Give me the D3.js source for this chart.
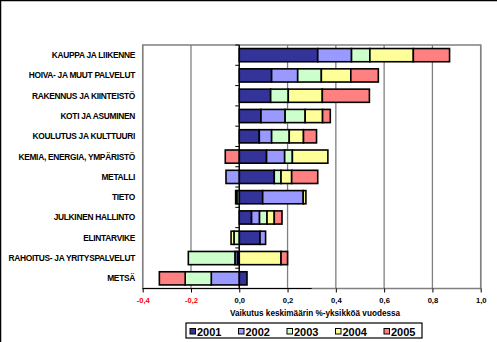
<!DOCTYPE html>
<html><head><meta charset="utf-8">
<script src="https://cdn.jsdelivr.net/npm/d3@7/dist/d3.min.js"></script>
<style>body{margin:0;background:#fff}svg{display:block}text{font-family:"Liberation Sans",Arial,sans-serif}</style>
</head><body><div id="chart"></div>
<script>
const categories = ["KAUPPA JA LIIKENNE","HOIVA- JA MUUT PALVELUT","RAKENNUS JA KIINTEISTÖ","KOTI JA ASUMINEN","KOULUTUS JA KULTTUURI","KEMIA, ENERGIA, YMPÄRISTÖ","METALLI","TIETO","JULKINEN HALLINTO","ELINTARVIKE","RAHOITUS- JA YRITYSPALVELUT","METSÄ"];
const seriesNames = ["2001","2002","2003","2004","2005"];
const v2001 = [0.325, 0.134, 0.130, 0.090, 0.083, 0.113, 0.145, 0.097, 0.051, 0.086, -0.008, 0.032];
const v2002 = [0.140, 0.108, 0.000, 0.100, 0.051, 0.075, -0.055, 0.168, 0.033, 0.023, -0.010, -0.116];
const v2003 = [0.076, 0.098, 0.073, 0.083, 0.073, 0.032, 0.028, -0.010, 0.031, -0.022, -0.193, -0.108];
const v2004 = [0.180, 0.122, 0.141, 0.072, 0.059, 0.147, 0.044, 0.011, 0.030, -0.012, 0.173, 0.000];
const v2005 = [0.150, 0.114, 0.195, 0.032, 0.054, -0.058, 0.108, -0.005, 0.032, 0.000, 0.027, -0.107];
const xTicks = [-0.4,-0.2,0,0.2,0.4,0.6,0.8,1.0];
const colors = ["#333399","#9999FF","#CCFFCC","#FFFF99","#FF8080"];
const axisTitle = "Vaikutus keskimäärin %-yksikköä vuodessa";

const W=497,H=342;
const svg=d3.select("#chart").append("svg").attr("width",W).attr("height",H);
svg.append("rect").attr("x",0.5).attr("y",0.5).attr("width",W+5).attr("height",H+5).attr("fill","#fff").attr("stroke","#000").attr("stroke-width",1.5);

const L=142.7,R=480.7,T=45,B=288.5;
const x=d3.scaleLinear().domain([-0.4,1.0]).range([L,R]);
const y=d3.scaleBand().domain(categories).range([T,B]).paddingInner(0.35).paddingOuter(0.175);

// gridlines
svg.append("g").selectAll("line").data(xTicks).join("line")
  .attr("x1",d=>x(d)).attr("x2",d=>x(d)).attr("y1",T).attr("y2",B)
  .attr("stroke","#808080").attr("stroke-width",1.3);
svg.append("rect").attr("x",L).attr("y",T).attr("width",R-L).attr("height",B-T)
  .attr("fill","none").attr("stroke","#808080").attr("stroke-width",1.5);

// stacked bars
const rows=categories.map((c,i)=>({cat:c,"2001":v2001[i],"2002":v2002[i],"2003":v2003[i],"2004":v2004[i],"2005":v2005[i]}));
const stacked=d3.stack().keys(seriesNames).offset(d3.stackOffsetDiverging)(rows);
const gBars=svg.append("g");
stacked.forEach((s,si)=>{
  gBars.append("g").selectAll("rect").data(s.filter(d=>d[1]!==d[0])).join("rect")
    .attr("x",d=>x(Math.min(d[0],d[1])))
    .attr("width",d=>Math.abs(x(d[1])-x(d[0])))
    .attr("y",d=>y(d.data.cat)).attr("height",y.bandwidth())
    .attr("fill",colors[si]).attr("stroke","#000").attr("stroke-width",1.6);
});

// x axis line (bottom)
svg.append("line").attr("x1",L).attr("x2",x(0.3)).attr("y1",B).attr("y2",B).attr("stroke","#000").attr("stroke-width",1.2);
const xAxis=d3.axisBottom(x).tickValues(xTicks).tickSize(4).tickFormat(d=>d3.format(".1f")(d).replace(".",",").replace("−","-"));
const gx=svg.append("g").attr("transform",`translate(0,${B})`).call(xAxis);
gx.select(".domain").remove();
gx.selectAll(".tick line").attr("stroke","#000");
gx.selectAll(".tick text").attr("font-size","7.6px").attr("font-weight","bold").attr("dy","0.95em")
  .attr("fill",d=>d<0?"#FF0000":"#000").style("font-family","'Liberation Sans',Arial,sans-serif");

// y axis at zero
const gy=svg.append("g").attr("transform",`translate(${x(0)},0)`);
gy.append("line").attr("x1",0).attr("x2",0).attr("y1",T).attr("y2",B).attr("stroke","#000").attr("stroke-width",1.3);
const step=y.step();
gy.selectAll("line.tk").data(d3.range(categories.length+1)).join("line").attr("class","tk")
  .attr("x1",-4).attr("x2",0).attr("y1",i=>T+i*step).attr("y2",i=>T+i*step).attr("stroke","#000");

// category labels
svg.append("g").selectAll("text").data(categories).join("text")
  .attr("x",135).attr("y",d=>y(d)+y.bandwidth()/2).attr("dy","0.35em")
  .attr("text-anchor","end").attr("font-size","8.4px").attr("font-weight","bold")
  .attr("letter-spacing","-0.3px").text(d=>d);

// axis title
svg.append("text").attr("x",315).attr("y",316).attr("text-anchor","middle")
  .attr("font-size","8.2px").attr("font-weight","bold").text(axisTitle);

// legend
const lg=svg.append("g");
const lgX=186;
lg.append("rect").attr("x",lgX).attr("y",323).attr("width",236).attr("height",15).attr("fill","#fff").attr("stroke","#000").attr("stroke-width",1.2);
seriesNames.forEach((s,i)=>{
  const lx=lgX+4+i*48.5;
  lg.append("rect").attr("x",lx).attr("y",328.5).attr("width",5.5).attr("height",5.5).attr("fill",colors[i]).attr("stroke","#000").attr("stroke-width",1);
  lg.append("text").attr("x",lx+7).attr("y",335.5).attr("font-size","11px").attr("font-weight","bold").text(s);
});
</script></body></html>
